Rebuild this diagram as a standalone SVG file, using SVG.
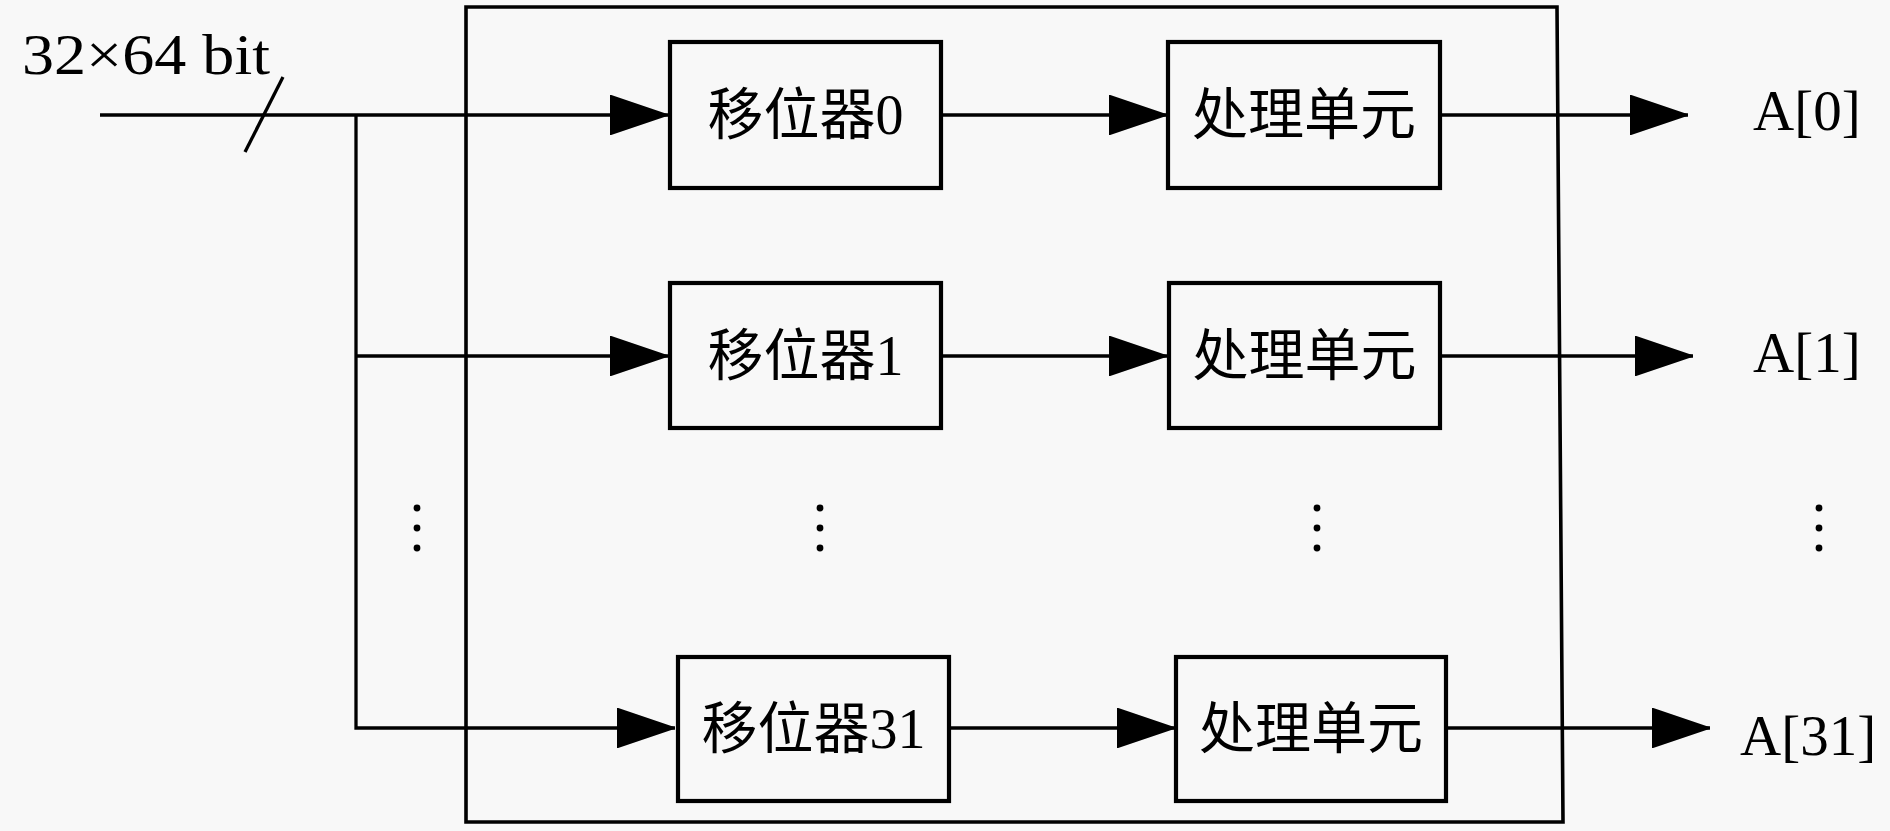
<svg xmlns="http://www.w3.org/2000/svg" width="1890" height="831" viewBox="0 0 1890 831">
<style>
.box{fill:none;stroke:#000;stroke-width:4.2}
.frame{fill:none;stroke:#000;stroke-width:3.6}
.ln{fill:none;stroke:#000;stroke-width:3.3}
.cjk{font-family:"Liberation Serif","Noto Sans CJK SC",serif;font-size:56px;fill:#000;text-anchor:middle}
.lat{font-family:"Liberation Serif",serif;font-size:57px;fill:#000}
.dot{fill:#000}
</style>
<defs>
<marker id="arr" viewBox="0 0 58 40" refX="58" refY="20" markerWidth="58" markerHeight="40" markerUnits="userSpaceOnUse" orient="auto">
<path d="M1,1 L57,20 L1,39 Z" fill="#000" stroke="#000" stroke-width="2" stroke-linejoin="miter"/>
</marker>
</defs>
<rect x="0" y="0" width="1890" height="831" fill="#f8f8f8"/>
<g id="frame">
<path class="frame" d="M466,7 L1557,7 L1563,822 L466,822 Z"/>
</g>
<g id="connectors">
<line class="ln" x1="100" y1="115" x2="668" y2="115" marker-end="url(#arr)"/>
<line class="ln" x1="283" y1="77" x2="245" y2="152"/>
<polyline class="ln" points="356,115 356,728 675,728" marker-end="url(#arr)"/>
<line class="ln" x1="356" y1="356" x2="668" y2="356" marker-end="url(#arr)"/>
<line class="ln" x1="941" y1="115" x2="1167" y2="115" marker-end="url(#arr)"/>
<line class="ln" x1="941" y1="356" x2="1167" y2="356" marker-end="url(#arr)"/>
<line class="ln" x1="949" y1="728" x2="1175" y2="728" marker-end="url(#arr)"/>
<line class="ln" x1="1440" y1="115" x2="1688" y2="115" marker-end="url(#arr)"/>
<line class="ln" x1="1440" y1="356" x2="1693" y2="356" marker-end="url(#arr)"/>
<line class="ln" x1="1446" y1="728" x2="1710" y2="728" marker-end="url(#arr)"/>
</g>
<g id="input-label"><text class="lat" x="22" y="74" font-size="60" textLength="248" lengthAdjust="spacingAndGlyphs">32×64 bit</text></g>
<g id="shifter0"><rect class="box" x="670" y="42" width="271" height="146"/><text class="cjk" x="805.5" y="134">移位器0</text></g>
<g id="pe0"><rect class="box" x="1168" y="42" width="272" height="146"/><text class="cjk" x="1304" y="134">处理单元</text></g>
<g id="shifter1"><rect class="box" x="670" y="283" width="271" height="145"/><text class="cjk" x="805.5" y="375">移位器1</text></g>
<g id="pe1"><rect class="box" x="1169" y="283" width="271" height="145"/><text class="cjk" x="1304.5" y="375">处理单元</text></g>
<g id="shifter31"><rect class="box" x="678" y="657" width="271" height="144"/><text class="cjk" x="813.5" y="748">移位器31</text></g>
<g id="pe31"><rect class="box" x="1176" y="657" width="270" height="144"/><text class="cjk" x="1311" y="748">处理单元</text></g>
<g id="out0"><text class="lat" x="1753" y="130" font-size="56">A[0]</text></g>
<g id="out1"><text class="lat" x="1753" y="372" font-size="56">A[1]</text></g>
<g id="out31"><text class="lat" x="1740" y="755" font-size="56">A[31]</text></g>
<g id="ellipsis">
<circle class="dot" cx="417" cy="508" r="3.4"/><circle class="dot" cx="417" cy="528" r="3.4"/><circle class="dot" cx="417" cy="548" r="3.4"/>
<circle class="dot" cx="820" cy="508" r="3.4"/><circle class="dot" cx="820" cy="528" r="3.4"/><circle class="dot" cx="820" cy="548" r="3.4"/>
<circle class="dot" cx="1317" cy="508" r="3.4"/><circle class="dot" cx="1317" cy="528" r="3.4"/><circle class="dot" cx="1317" cy="548" r="3.4"/>
<circle class="dot" cx="1819" cy="508" r="3.4"/><circle class="dot" cx="1819" cy="528" r="3.4"/><circle class="dot" cx="1819" cy="548" r="3.4"/>
</g>
</svg>
